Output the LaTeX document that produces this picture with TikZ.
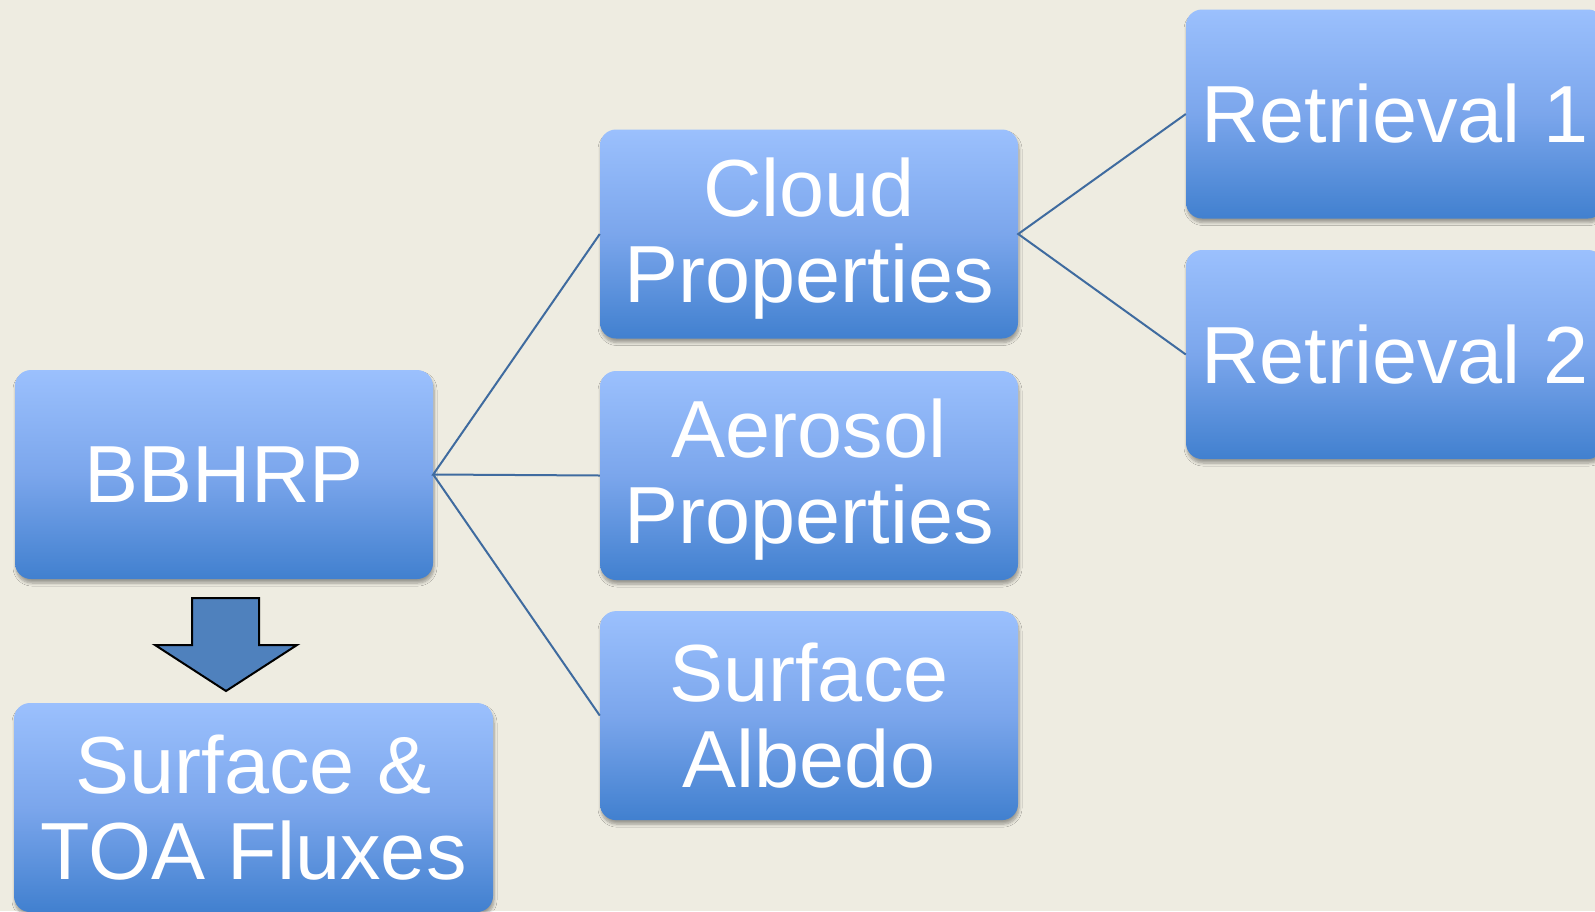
\documentclass[tikz,border=0pt]{standalone}
\usepackage{fontspec}
\setmainfont{Liberation Sans}
\usetikzlibrary{shadows.blur}
\definecolor{bgtan}{HTML}{EEECE1}
\definecolor{boxtop}{HTML}{9BC0FD}
\definecolor{boxmid}{HTML}{7BA6EC}
\definecolor{boxbot}{HTML}{4180CF}
\definecolor{linkcol}{HTML}{3F6B9F}
\definecolor{arrowfill}{HTML}{4F81BD}
\tikzset{
  boxnode/.style={rounded corners=16pt, minimum width=418pt, minimum height=209pt,
    inner sep=0pt, top color=boxtop, bottom color=boxbot, middle color=boxmid,
    text=white, align=center, font=\fontsize{81}{86}\selectfont,
    blur shadow={shadow xshift=1pt, shadow yshift=-4pt, shadow blur radius=3pt, shadow blur steps=6, shadow opacity=35}},
  link/.style={draw=linkcol, line width=2pt},
  blockarrow/.style={draw=black, line width=2pt, fill=arrowfill, line join=miter}
}
\begin{document}
\begin{tikzpicture}[x=1pt,y=-1pt]
\useasboundingbox (0,0) rectangle (1595,911);
\clip (0,0) rectangle (1595,911);
\fill[bgtan] (0,0) rectangle (1595,911);
\node[boxnode] (bbhrp) at (224,474.5) {BBHRP};
\node[boxnode, minimum width=479pt] (flux) at (253.5,807.5) {Surface \&\\TOA Fluxes};
\node[boxnode] (cloud) at (809,234) {\rule{0pt}{68pt}Cloud\\Properties};
\node[boxnode] (aerosol) at (809,475.5) {\rule{0pt}{66pt}Aerosol\\Properties};
\node[boxnode] (albedo) at (809,715.6) {Surface\\Albedo};
\node[boxnode] (ret1) at (1395,114) {Retrieval 1};
\node[boxnode] (ret2) at (1395,354.5) {Retrieval 2};
\draw[link] (cloud.west) -- (bbhrp.east) -- (aerosol.west);
\draw[link] (bbhrp.east) -- (albedo.west);
\draw[link] (ret1.west) -- (cloud.east) -- (ret2.west);
\draw[blockarrow] (192,598) -- (259,598) -- (259,645) -- (297,645) -- (226,691) -- (155,645) -- (192,645) -- cycle;
\end{tikzpicture}
\end{document}
